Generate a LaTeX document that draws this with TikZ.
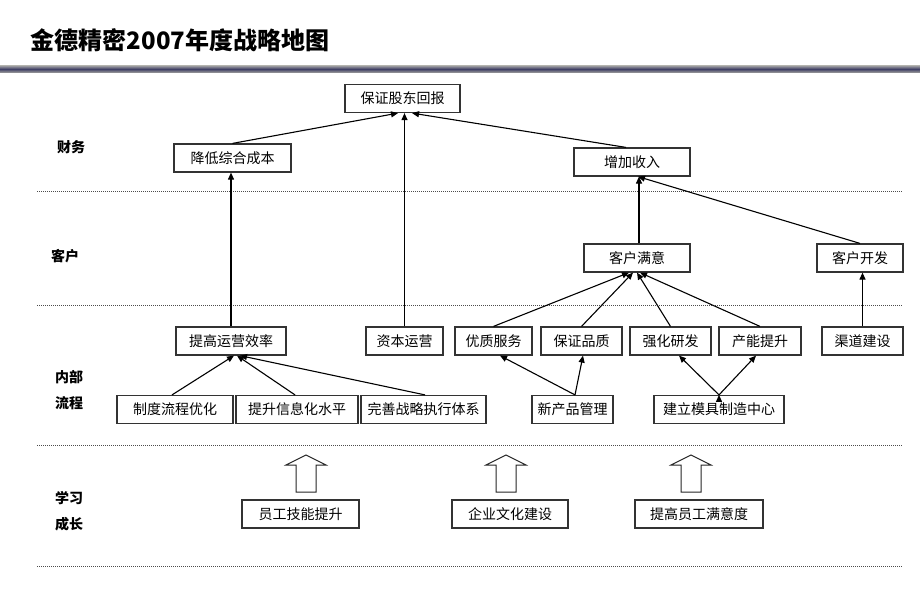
\documentclass[tikz,border=0pt]{standalone}
\usepackage{fontspec}
\newfontfamily\cjk{Noto Sans CJK SC}
\usepackage{tikz}
\usetikzlibrary{arrows.meta, calc, positioning}

\begin{document}
\begin{tikzpicture}[x=1pt,y=-1pt,>={Triangle[length=7pt,width=6pt]},line width=1.1pt]
	\tikzset{
		goal/.style={draw=black!80, line width=1.2pt, rectangle, minimum height=28pt, inner sep=0pt,
			font=\cjk\fontsize{14}{14}\selectfont},
		layer/.style={font=\cjk\bfseries\fontsize{14}{14}\selectfont},
		sepline/.style={draw=black!70, line width=0.9pt, dash pattern=on 1pt off 1pt},
		link/.style={->, draw=black},
		hollow/.style={draw=black!85, line width=1pt, fill=white}
	}
	\useasboundingbox (0,0) rectangle (920,614);

	% title and header bar
	\node[anchor=west, font=\cjk\bfseries\fontsize{24}{24}\selectfont] (title) at (27,40) {金德精密2007年度战略地图};
	\shade[top color=black!35, bottom color=blue!20!black!75] (0,65.5) rectangle (920,69);
	\shade[top color=blue!20!black!75, bottom color=black!40] (0,69) rectangle (920,72.5);

	% layer separators
	\foreach \y in {191,305,445,566}
		\draw[sepline] (37,\y) -- (903,\y);

	% layer names
	\node[layer] (caiwu) at (71,147) {财务};
	\node[layer] (kehu) at (65,256) {客户};
	\node[layer] (neibu) at (69,377) {内部};
	\node[layer] (liucheng) at (69,403) {流程};
	\node[layer] (xuexi) at (69,498) {学习};
	\node[layer] (chengzhang) at (69,524) {成长};

	% finance
	\node[goal, minimum width=115pt] (huibao) at (402.5,98.5) {保证股东回报};
	\node[goal, minimum width=117pt] (chengben) at (232.5,158) {降低综合成本};
	\node[goal, minimum width=116pt] (shouru) at (632,162) {增加收入};

	% customer
	\node[goal, minimum width=106pt] (manyi) at (637,258) {客户满意};
	\node[goal, minimum width=86pt] (kaifa) at (860,258) {客户开发};

	% internal process
	\node[goal, minimum width=110pt] (xiaolv) at (231,341) {提高运营效率};
	\node[goal, minimum width=77pt] (ziben) at (404.5,341) {资本运营};
	\node[goal, minimum width=77pt] (fuwu) at (493.5,341) {优质服务};
	\node[goal, minimum width=81pt] (pinzhi) at (581.5,341) {保证品质};
	\node[goal, minimum width=81pt] (yanfa) at (670.5,341) {强化研发};
	\node[goal, minimum width=82pt] (channeng) at (760,341) {产能提升};
	\node[goal, minimum width=81pt] (qudao) at (862.5,341) {渠道建设};
	\node[goal, minimum width=116pt] (zhidu) at (175,409.5) {制度流程优化};
	\node[goal, minimum width=122pt] (xinxi) at (297,409.5) {提升信息化水平};
	\node[goal, minimum width=125pt] (zhanlue) at (423.5,409.5) {完善战略执行体系};
	\node[goal, minimum width=81pt] (xinchanpin) at (572.5,409.5) {新产品管理};
	\node[goal, minimum width=130pt] (muju) at (719,409.5) {建立模具制造中心};

	% learning and growth
	\node[goal, minimum width=117pt] (jineng) at (300.5,514) {员工技能提升};
	\node[goal, minimum width=116pt] (wenhua) at (510,514) {企业文化建设};
	\node[goal, minimum width=128pt] (manyidu) at (699,514) {提高员工满意度};

	\foreach \x in {306,506,691}
		\draw[hollow] (\x,455) -- (\x+20,465) -- (\x+10,465) -- (\x+10,492)
			-- (\x-10,492) -- (\x-10,465) -- (\x-20,465) -- cycle;

	\path[link]
		(chengben.north) edge ([xshift=-4.5pt]huibao.south)
		(ziben.north) edge (ziben.north |- huibao.south)
		([xshift=-6pt]shouru.north) edge ([xshift=9.5pt]huibao.south)
		(xiaolv.north) edge (xiaolv.north |- chengben.south)
		([xshift=2pt]manyi.north) edge ([xshift=2pt]manyi.north |- shouru.south)
		(kaifa.north) edge ([xshift=6pt]shouru.south)
		(qudao.north) edge (qudao.north |- kaifa.south)
		(fuwu.north) edge ([xshift=-8pt]manyi.south)
		(pinzhi.north) edge ([xshift=-4pt]manyi.south)
		(yanfa.north) edge ([xshift=0pt]manyi.south)
		(channeng.north) edge ([xshift=3pt]manyi.south)
		([xshift=-3pt]zhidu.north) edge ([xshift=3pt]xiaolv.south)
		([xshift=-2pt]xinxi.north) edge ([xshift=6pt]xiaolv.south)
		([xshift=1.5pt]zhanlue.north) edge ([xshift=9pt]xiaolv.south)
		([xshift=2.5pt]xinchanpin.north) edge ([xshift=6.5pt]fuwu.south)
		([xshift=2.5pt]xinchanpin.north) edge ([xshift=1.5pt]pinzhi.south)
		(muju.north) edge ([xshift=8.5pt]yanfa.south)
		(muju.north) edge ([xshift=-4pt]channeng.south);
\end{tikzpicture}
\end{document}
